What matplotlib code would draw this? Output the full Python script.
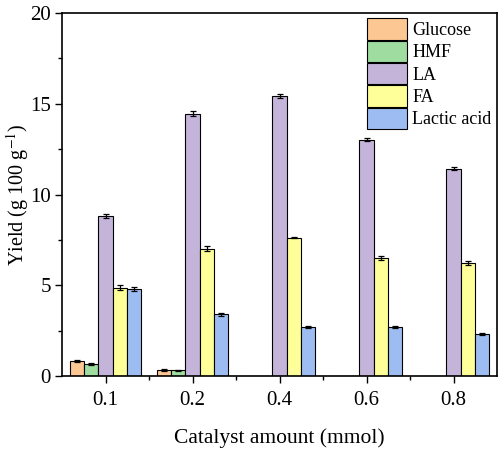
import matplotlib
matplotlib.use("Agg")
import matplotlib.pyplot as plt
import numpy as np
from matplotlib.ticker import FixedLocator, MultipleLocator

plt.rcParams['font.family'] = ['Liberation Serif', 'DejaVu Serif']
plt.rcParams['mathtext.fontset'] = 'stix'

categories = ['0.1', '0.2', '0.4', '0.6', '0.8']
series_names = ['Glucose', 'HMF', 'LA', 'FA', 'Lactic acid']
glucose = [0.82, 0.33, 0, 0, 0]
hmf = [0.66, 0.32, 0, 0, 0]
la = [8.82, 14.45, 15.42, 13.03, 11.43]
fa = [4.87, 7.02, 7.63, 6.50, 6.21]
lactic = [4.80, 3.39, 2.69, 2.69, 2.30]
glucose_err = [0.05, 0.03, 0, 0, 0]
hmf_err = [0.04, 0.03, 0, 0, 0]
la_err = [0.12, 0.15, 0.10, 0.10, 0.08]
fa_err = [0.15, 0.12, 0.05, 0.10, 0.12]
lactic_err = [0.10, 0.08, 0.05, 0.06, 0.06]

colors = ['#FCC792', '#9FDCA0', '#C5B4DA', '#FFFF99', '#9DBDF2']
values = [glucose, hmf, la, fa, lactic]
errors = [glucose_err, hmf_err, la_err, fa_err, lactic_err]

fig = plt.figure(figsize=(5.0, 4.49), dpi=100)
ax = fig.add_axes([0.124, 0.1626, 0.87, 0.8084])

x = np.arange(1, len(categories) + 1)
w = 0.162
for i, (name, vals, errs, c) in enumerate(zip(series_names, values, errors, colors)):
    pos = x + (i - 2) * w
    ax.bar(pos, vals, width=w, color=c, edgecolor='black', linewidth=0.8,
           label=name, zorder=2)
    mask = np.array(vals) > 0
    ax.errorbar(pos[mask], np.array(vals)[mask], yerr=np.array(errs)[mask],
                fmt='none', ecolor='black', elinewidth=0.9, capsize=2.5,
                capthick=0.9, zorder=3)

ax.set_xlim(0.5, 5.5)
ax.set_ylim(0, 20)
ax.set_xticks(x)
ax.set_xticklabels(categories)
ax.xaxis.set_minor_locator(FixedLocator(np.arange(1.5, 5.5, 1.0)))
ax.yaxis.set_major_locator(MultipleLocator(5))
ax.yaxis.set_minor_locator(MultipleLocator(2.5))
ax.tick_params(axis='both', which='major', direction='out', length=5, width=1,
               labelsize=15, top=False, right=False)
ax.tick_params(axis='both', which='minor', direction='out', length=3, width=1,
               top=False, right=False)
ax.tick_params(axis='x', which='major', pad=6)
ax.tick_params(axis='y', which='major', pad=3)
for s in ax.spines.values():
    s.set_linewidth(1.2)

ax.set_xlabel('Catalyst amount (mmol)', fontsize=15.5, labelpad=13)
ax.set_ylabel('Yield (g 100 g$^{-1}$)', fontsize=14.5)
ax.yaxis.set_label_coords(-0.072, 0.5)

leg = ax.legend(loc='upper right', frameon=False, fontsize=13,
                handlelength=2.2, handleheight=1.42, labelspacing=0.07,
                handletextpad=0.3, borderaxespad=0.2, borderpad=0.1)
for p in leg.get_patches():
    p.set_edgecolor('black')

fig.savefig('out.png', dpi=100)
